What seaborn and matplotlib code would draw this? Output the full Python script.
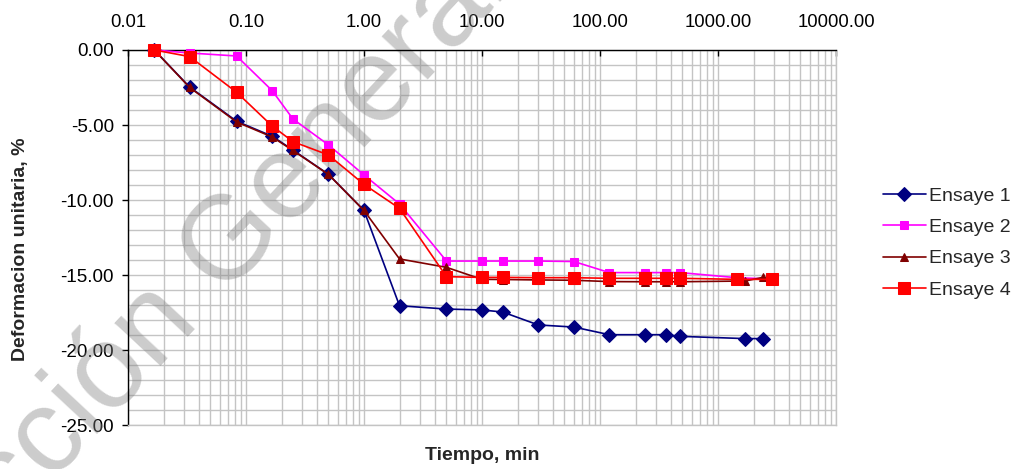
import numpy as np
import pandas as pd
import matplotlib
matplotlib.use("Agg")
import matplotlib.pyplot as plt
import seaborn as sns
from matplotlib.ticker import FuncFormatter, MultipleLocator, LogLocator, NullFormatter

# ---------------- data ----------------
t_a = [0.0167, 0.0333, 0.0833, 0.1667, 0.25, 0.5, 1, 2, 5, 10, 15, 30, 60, 120, 240, 360, 480, 1700, 2400]
t_b = [0.0167, 0.0333, 0.0833, 0.1667, 0.25, 0.5, 1, 2, 5, 10, 15, 30, 60, 120, 240, 360, 480, 1440, 2880]

ensaye1 = [0, -2.47, -4.75, -5.75, -6.67, -8.29, -10.7, -17.05, -17.27, -17.33, -17.47,
           -18.33, -18.47, -18.98, -18.98, -18.98, -19.09, -19.24, -19.24]
ensaye2 = [0, -0.2, -0.4, -2.71, -4.6, -6.33, -8.33, -10.27, -14.07, -14.07, -14.07,
           -14.07, -14.1, -14.84, -14.84, -14.84, -14.84, -15.18, -15.27]
ensaye3 = [0, -2.5, -4.8, -5.8, -6.7, -8.3, -10.7, -13.93, -14.49, -15.29, -15.3,
           -15.33, -15.35, -15.44, -15.45, -15.45, -15.45, -15.4, -15.16]
ensaye4 = [0, -0.44, -2.82, -5.07, -6.11, -7.0, -8.96, -10.56, -15.11, -15.16, -15.16,
           -15.18, -15.18, -15.22, -15.22, -15.22, -15.22, -15.29, -15.29]

series_names = ["Ensaye 1", "Ensaye 2", "Ensaye 3", "Ensaye 4"]
x_ticks = [0.01, 0.1, 1, 10, 100, 1000, 10000]
y_ticks = [0, -5, -10, -15, -20, -25]

# ---------------- style ----------------
sns.set_theme(style="white")
plt.rcParams['font.family'] = ['Liberation Sans', 'DejaVu Sans']
plt.rcParams['axes.unicode_minus'] = False

fig = plt.figure(figsize=(10.15, 4.69), dpi=100)
ax = fig.add_axes([128/1015, 1-425/469, (836-128)/1015, (425-50)/469])

specs = [
    (t_a, ensaye1, "#000080", "D", 6.8),
    (t_b, ensaye2, "#FF00FF", "s", 6.0),
    (t_a, ensaye3, "#800000", "^", 6.0),
    (t_b, ensaye4, "#FF0000", "s", 8.5),
]
for name, (tx, vals, col, mk, ms) in zip(series_names, specs):
    df = pd.DataFrame({"t": tx, "v": vals})
    sns.lineplot(data=df, x="t", y="v", ax=ax, color=col, marker=mk, markersize=ms,
                 markeredgecolor=col, linewidth=1.2, label=name, sort=False,
                 estimator=None, zorder=3, clip_on=False)

ax.set_xscale("log")
ax.set_xlim(0.01, 10000)
ax.set_ylim(-25, 0)

ax.xaxis.set_ticks_position("top")
ax.xaxis.set_label_position("bottom")
ax.set_xticks(x_ticks)
ax.xaxis.set_minor_locator(LogLocator(base=10, subs=np.arange(2, 10), numticks=20))
ax.xaxis.set_minor_formatter(NullFormatter())
ax.xaxis.set_major_formatter(FuncFormatter(lambda v, p: f"{v:.2f}"))
ax.set_yticks(y_ticks)
ax.yaxis.set_minor_locator(MultipleLocator(1))
ax.yaxis.set_major_formatter(FuncFormatter(lambda v, p: f"{v:.2f}"))

ax.tick_params(axis="x", which="major", direction="in", length=4.5, width=1, colors="black",
               labelsize=13.3, pad=14, top=True, bottom=False, labeltop=True, labelbottom=False)
ax.tick_params(axis="x", which="minor", length=0, top=False, bottom=False)
ax.tick_params(axis="y", which="major", direction="out", length=4, width=1, colors="black",
               labelsize=13.5, pad=6, left=True)
ax.tick_params(axis="y", which="minor", length=0)

ax.set_axisbelow(True)
ax.grid(True, which="both", color="#c4c4c4", linewidth=1.0)

for s in ["top", "left"]:
    ax.spines[s].set_color("black")
    ax.spines[s].set_linewidth(1.0)
for s in ["bottom", "right"]:
    ax.spines[s].set_color("#c4c4c4")
    ax.spines[s].set_linewidth(1.0)

ax.set_xlabel("Tiempo, min", fontsize=14, fontweight="bold", labelpad=16)
ax.set_ylabel("Deformacion unitaria, %", fontsize=14, fontweight="bold")
ax.yaxis.set_label_coords((29 - 128) / 708, 1 - (249.5 - 50) / 375)

leg = ax.legend(loc="center left", bbox_to_anchor=(883/1015, 1-243/469),
                bbox_transform=fig.transFigure, frameon=False, fontsize=14,
                handlelength=2.2, handletextpad=0.15, labelspacing=0.7,
                borderpad=0, borderaxespad=0)

# watermark
fs_wm = 86
em = fs_wm * 100 / 72
ang_deg = 47
ang = np.deg2rad(ang_deg)
gx, gy = 223, 299  # start of "G" on baseline (pixels, y down)
back = 4.445 * em
sx = gx - back * np.cos(ang)
sy = gy + back * np.sin(ang)
ax.text(sx / 1015, 1 - sy / 469, "Dirección General", transform=fig.transFigure,
        fontsize=fs_wm, rotation=ang_deg, rotation_mode="anchor", ha="left", va="baseline",
        color="#808080", alpha=0.4, zorder=1.5, clip_on=False)

fig.savefig("out.png", dpi=100)
